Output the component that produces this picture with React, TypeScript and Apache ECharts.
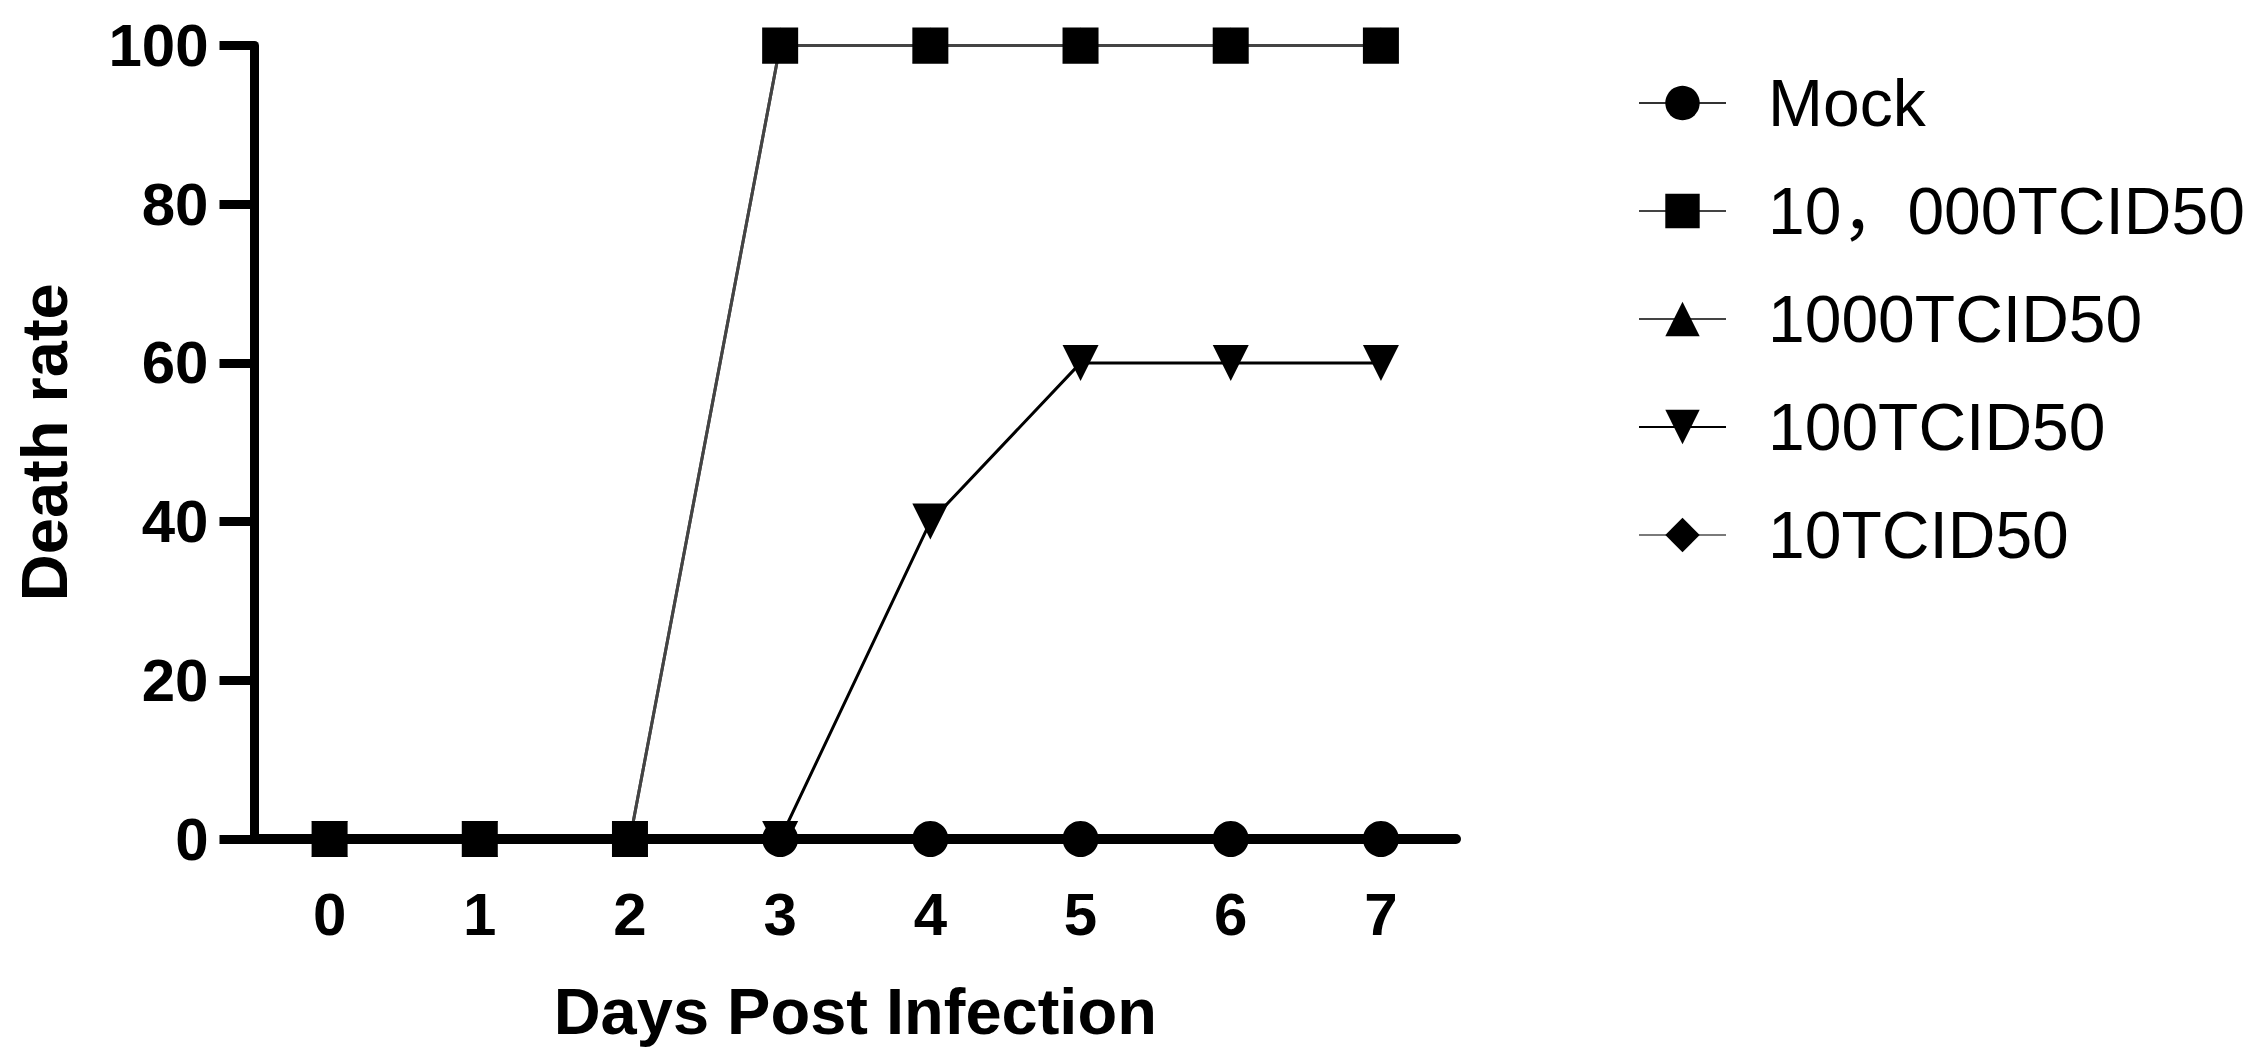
import React, { useEffect, useRef } from "react";
import * as echarts from "echarts";

const days = ["0", "1", "2", "3", "4", "5", "6", "7"];
const seriesNames = ["Mock", "10，000TCID50", "1000TCID50", "100TCID50", "10TCID50"];
const mock = [0, 0, 0, 0, 0, 0, 0, 0];
const tcid10000 = [0, 0, 0, 100, 100, 100, 100, 100];
const tcid1000 = [0, 0, 0, 100, 100, 100, 100, 100];
const tcid100 = [0, 0, 0, 0, 40, 60, 60, 60];
const tcid10 = [0, 0, 0, 0, 0, 0, 0, 0];
const yTicks = { min: 0, max: 100, interval: 20 };

const FONT = "'Liberation Sans', Arial, 'Noto Sans CJK SC', sans-serif";

export default function App() {
  const ref = useRef<HTMLDivElement>(null);
  useEffect(() => {
    document.body.style.margin = "0";
    const chart = echarts.init(ref.current!, null, { renderer: "svg" });
    const mk = (name: string, data: number[], symbol: string, lineColor: string) => ({
      name,
      type: "line",
      data,
      symbol,
      symbolSize: 36,
      itemStyle: { color: "#000" },
      lineStyle: { color: lineColor, width: 3 },
    });
    chart.setOption({
      animation: false,
      backgroundColor: "#fff",
      textStyle: { fontFamily: FONT },
      grid: { left: 254.5, right: 796, top: 45.5, bottom: 223 },
      legend: {
        orient: "vertical",
        left: 1633,
        top: 65,
        itemWidth: 87,
        itemHeight: 43,
        itemGap: 42,
        textStyle: { fontSize: 66, color: "#000", fontFamily: FONT, padding: [0, 0, 0, 37] },
        data: seriesNames,
      },
      xAxis: {
        type: "category",
        data: days,
        boundaryGap: true,
        z: 5,
        name: "Days Post Infection",
        nameLocation: "middle",
        nameGap: 140,
        nameTextStyle: { fontSize: 65, fontWeight: "bold", color: "#000", fontFamily: FONT },
        axisLine: { lineStyle: { color: "#000", width: 10 } },
        axisTick: { alignWithLabel: true, length: 34, lineStyle: { color: "#000", width: 7 } },
        axisLabel: { interval: 0, fontSize: 60, fontWeight: "bold", color: "#000", margin: 45, fontFamily: FONT },
        splitLine: { show: false },
      },
      yAxis: {
        type: "value",
        min: yTicks.min,
        max: yTicks.max,
        interval: yTicks.interval,
        name: "Death rate",
        nameLocation: "middle",
        nameGap: 178,
        nameTextStyle: { fontSize: 65, fontWeight: "bold", color: "#000", fontFamily: FONT },
        axisLine: { show: true, lineStyle: { color: "#000", width: 9 } },
        axisTick: { show: true, length: 35, lineStyle: { color: "#000", width: 9 } },
        axisLabel: { fontSize: 60, fontWeight: "bold", color: "#000", margin: 46, fontFamily: FONT },
        splitLine: { show: false },
      },
      series: [
        mk(seriesNames[0], mock, "circle", "#333"),
        mk(seriesNames[1], tcid10000, "rect", "#444"),
        mk(seriesNames[2], tcid1000, "triangle", "#444"),
        mk(seriesNames[3], tcid100, "path://M0,0 L10,0 L5,10 Z", "#000"),
        mk(seriesNames[4], tcid10, "diamond", "#7a7a7a"),
      ],
    });
    return () => chart.dispose();
  }, []);
  return <div ref={ref} style={{ position: "fixed", left: 0, top: 0, width: 2252, height: 1062 }} />;
}
